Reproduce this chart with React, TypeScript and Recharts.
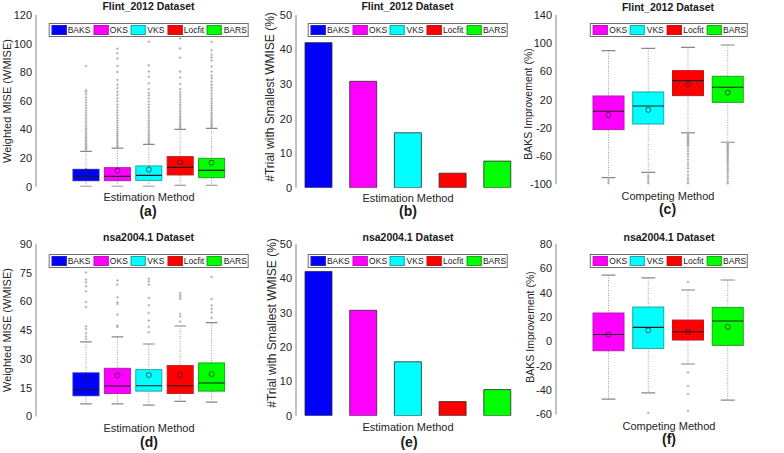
import React from 'react';
import { ComposedChart, BarChart, Bar, XAxis, YAxis, Cell, Legend } from 'recharts';

const FONT = '"Liberation Sans", Arial, Helvetica, sans-serif';
const AXIS = '#858585';
const TEXT = '#262626';

// ---------- categories ----------
const estimationMethods = ['BAKS', 'OKS', 'VKS', 'Locfit', 'BARS'];
const competingMethods = ['OKS', 'VKS', 'Locfit', 'BARS'];

// ---------- (a) Flint_2012 WMISE box plots ----------
const flintWmiseLow = [0.3, 0.3, 0.3, 1.0, 1.0];
const flintWmiseQ1 = [4.2, 4.2, 4.4, 8.2, 6.3];
const flintWmiseMedian = [7.2, 7.2, 7.9, 13.5, 11.4];
const flintWmiseQ3 = [12.1, 13.3, 14.5, 21.0, 19.8];
const flintWmiseHigh = [24.7, 27.0, 29.6, 40.1, 40.8];
const flintWmiseMean = [10.7, 11.2, 11.9, 17.0, 16.8];
const flintWmiseOutliers = [
  [25.6, 26.4, 27.3, 28.1, 29.2, 30.0, 31.1, 32.3, 33.2, 34.4, 35.5, 36.8, 38.0, 39.4, 40.7, 42.1, 43.6, 45.0, 46.6, 48.1, 49.9, 51.6, 53.2, 55.0, 56.9, 58.7, 60.6, 62.4, 64.5, 66.2, 67.4, 84.3],
  [27.9, 28.8, 29.9, 31.0, 32.1, 33.3, 34.6, 35.8, 37.1, 38.5, 40.0, 41.4, 43.0, 44.6, 46.3, 48.0, 49.8, 51.7, 53.5, 55.6, 57.5, 59.7, 61.8, 64.1, 66.3, 68.9, 71.2, 74.6, 80.2, 84.4, 89.6, 93.3, 96.5],
  [30.4, 31.3, 32.4, 33.5, 34.7, 35.9, 37.2, 38.6, 40.0, 41.5, 43.1, 44.6, 46.3, 48.0, 49.7, 51.5, 53.3, 55.3, 57.4, 59.4, 61.6, 63.8, 65.5, 68.2, 72.3, 76.8, 80.5, 84.9, 101.3],
  [40.8, 41.7, 42.6, 43.6, 44.7, 45.9, 47.1, 48.4, 49.7, 51.1, 52.6, 54.1, 55.7, 57.3, 59.0, 60.8, 62.6, 64.3, 66.1, 68.3, 71.8, 76.2, 80.4, 90.1, 96.7, 103.6],
  [41.5, 42.4, 43.4, 44.4, 45.5, 46.7, 47.9, 49.2, 50.5, 51.9, 53.4, 54.9, 56.5, 58.1, 59.8, 61.6, 63.4, 65.3, 67.2, 69.2, 71.3, 73.5, 75.8, 77.6, 80.4, 84.1, 88.2, 90.3, 92.2, 95.4, 101.2, 106.3],
];

// ---------- (b) Flint_2012 % trials with smallest WMISE ----------
const flintBestPct = [42.0, 30.8, 15.9, 4.2, 7.7];

// ---------- (c) Flint_2012 BAKS improvement ----------
const flintImpLow = [-90.6, -83.0, -27.2, -40.4];
const flintImpQ1 = [-22.5, -14.5, 25.7, 16.2];
const flintImpMedian = [3.5, 11.0, 47.0, 37.5];
const flintImpQ3 = [25.2, 30.9, 61.1, 53.1];
const flintImpHigh = [89.4, 92.8, 94.2, 97.5];
const flintImpMean = [-1.7, 5.4, 41.3, 30.0];
const flintImpOutliers = [
  [-93.8, -97.0, -99.4],
  [-86.8, -89.2, -92.0, -95.1, -98.0, -99.8],
  [-28.9, -30.4, -31.8, -33.3, -34.9, -36.4, -38.0, -39.7, -41.3, -43.0, -44.8, -46.6, -50.1, -53.7, -57.4, -60.8, -65.2, -70.0, -73.6, -77.3, -82.1, -86.8, -90.4, -93.8, -97.5, -99.6],
  [-41.8, -43.3, -44.9, -46.4, -48.0, -49.7, -51.3, -53.0, -54.8, -56.5, -58.3, -60.2, -62.1, -64.0, -66.1, -68.2, -70.4, -72.7, -75.1, -77.6, -80.2, -82.9, -85.8, -88.9, -92.2, -95.6, -98.7, -99.9],
];

// ---------- (d) nsa2004.1 WMISE box plots ----------
const nsaWmiseLow = [6.5, 6.5, 5.9, 7.8, 7.5];
const nsaWmiseQ1 = [10.8, 12.0, 13.2, 12.0, 13.2];
const nsaWmiseMedian = [13.9, 15.9, 16.0, 16.0, 17.4];
const nsaWmiseQ3 = [22.7, 25.1, 24.4, 26.5, 27.9];
const nsaWmiseHigh = [38.9, 41.5, 37.8, 47.2, 48.9];
const nsaWmiseMean = [20.0, 21.4, 21.6, 21.6, 22.1];
const nsaWmiseOutliers = [
  [40.4, 41.8, 43.5, 45.6, 47.0, 57.1, 59.7, 65.3, 67.9, 70.0, 71.4, 75.2],
  [46.7, 47.4, 53.1, 58.7, 59.5, 62.1, 68.8, 71.0],
  [43.9, 46.7, 50.1, 54.0, 58.0, 61.8, 68.8, 70.5, 71.9],
  [49.5, 52.2, 53.5, 61.3, 62.3, 63.2, 64.4],
  [51.4, 54.3, 56.1, 58.0, 61.3, 72.8],
];

// ---------- (e) nsa2004.1 % trials with smallest WMISE ----------
const nsaBestPct = [42.0, 30.7, 15.7, 4.1, 7.6];

// ---------- (f) nsa2004.1 BAKS improvement ----------
const nsaImpLow = [-47.4, -42.4, -18.6, -48.2];
const nsaImpQ1 = [-7.7, -5.8, 1.1, -3.3];
const nsaImpMedian = [5.7, 11.5, 7.9, 16.7];
const nsaImpQ3 = [23.3, 28.2, 17.5, 27.9];
const nsaImpHigh = [54.5, 52.1, 42.2, 50.4];
const nsaImpMean = [5.5, 9.0, 7.9, 12.0];
const nsaImpOutliers = [[], [-58.7], [48.8, -25.5, -36.7, -43.3, -57.2], []];

// ---------- axis ticks ----------
const wmiseFlintTicks = [0, 20, 40, 60, 80, 100, 120];
const pctTicks = [0, 10, 20, 30, 40, 50];
const impFlintTicks = [-100, -60, -20, 20, 60, 100, 140];
const wmiseNsaTicks = [0, 15, 30, 45, 60, 75, 90];
const impNsaTicks = [-60, -40, -20, 0, 20, 40, 60, 80];

// ---------- styles ----------
const FILLS: Record<string, string> = { BAKS: '#0000ff', OKS: '#ff00ff', VKS: '#00ffff', Locfit: '#ff0000', BARS: '#00ff00' };
const EDGES: Record<string, string> = { BAKS: '#2020c0', OKS: '#b818b8', VKS: '#18a8a8', Locfit: '#c01818', BARS: '#18a818' };

function boxRows(methods: string[], low: number[], q1: number[], med: number[], q3: number[], high: number[], mean: number[], outl: number[][]) {
  return methods.map((m, i) => ({ method: m, low: low[i], q1: q1[i], median: med[i], q3: q3[i], high: high[i], mean: mean[i], outliers: outl[i] }));
}
function barRows(methods: string[], vals: number[]) {
  return methods.map((m, i) => ({ method: m, pct: vals[i] }));
}

const BoxShape = (props: any) => {
  const { x, y, width, height, payload } = props;
  if (!payload || !height) return null;
  const d = payload;
  const ppu = height / (d.q3 - d.q1);
  const py = (v: number) => y + (d.q3 - v) * ppu;
  const cx = x + width / 2;
  const cap = width * 0.45;
  return (
    <g>
      <line x1={cx} x2={cx} y1={py(d.high)} y2={y} stroke="#9a9a9a" strokeWidth={1} strokeDasharray="1 1.5" />
      <line x1={cx} x2={cx} y1={y + height} y2={py(d.low)} stroke="#9a9a9a" strokeWidth={1} strokeDasharray="1 1.5" />
      <line x1={cx - cap / 2} x2={cx + cap / 2} y1={py(d.high)} y2={py(d.high)} stroke="#888" strokeWidth={1.2} />
      <line x1={cx - cap / 2} x2={cx + cap / 2} y1={py(d.low)} y2={py(d.low)} stroke="#888" strokeWidth={1.2} />
      {d.outliers.map((v: number, k: number) => {
        const oy = py(v);
        return <path key={k} d={`M${cx - 1.3},${oy}h2.6M${cx},${oy - 1.3}v2.6`} stroke="#a2a2a2" strokeWidth={0.8} fill="none" />;
      })}
      <rect x={x} y={y} width={width} height={height} fill={FILLS[d.method]} stroke={EDGES[d.method]} strokeWidth={1} />
      <line x1={x} x2={x + width} y1={py(d.median)} y2={py(d.median)} stroke="#1a1a1a" strokeWidth={1.1} />
      <circle cx={cx} cy={py(d.mean)} r={2.5} fill="none" stroke="#222" strokeOpacity={0.7} strokeWidth={1} />
    </g>
  );
};

const LegendBox = ({ names }: { names: string[] }) => (
  <div style={{ display: 'inline-flex', alignItems: 'center', border: '1px solid #6e6e6e', background: '#fff', padding: '1px 1px 1px 2px', fontFamily: FONT, fontSize: 8.5, color: '#1a1a1a', lineHeight: '10px', whiteSpace: 'nowrap' }}>
    {names.map((n, i) => (
      <div key={n} style={{ display: 'flex', alignItems: 'center', marginLeft: i ? 3 : 0 }}>
        <span style={{ display: 'inline-block', width: 15, height: 10, background: FILLS[n], border: `1px solid ${EDGES[n]}`, boxSizing: 'border-box', marginRight: 1.5 }} />
        <span>{n}</span>
      </div>
    ))}
  </div>
);

type Plot = { left: number; right: number; top: number; bottom: number };
const YW = 36;
const MB = 10;

function commonAxes(domain: number[], ticks: number[], padding: any) {
  const tickStyle = { fill: TEXT, fontSize: 11, fontFamily: FONT };
  return [
    <XAxis key="xb" dataKey="method" type="category" padding={padding} tick={false} tickLine={false} axisLine={{ stroke: AXIS }} height={0} />,
    <XAxis key="xt" xAxisId="top" dataKey="method" type="category" orientation="top" mirror tick={false} tickLine={false} axisLine={{ stroke: AXIS }} height={0} />,
    <YAxis key="yl" type="number" domain={domain} ticks={ticks} interval={0} allowDataOverflow width={YW} tickLine={false} tickSize={0} tickMargin={4} axisLine={{ stroke: AXIS }} tick={tickStyle} />,
    <YAxis key="ylt" yAxisId="lt" type="number" domain={domain} ticks={ticks} interval={0} mirror width={0} tick={false} tickSize={3} axisLine={false} tickLine={{ stroke: AXIS }} />,
    <YAxis key="yr" yAxisId="r" orientation="right" type="number" domain={domain} ticks={ticks} interval={0} mirror width={0} tick={false} tickSize={3} axisLine={{ stroke: AXIS }} tickLine={{ stroke: AXIS }} />,
  ];
}

const BoxPanel = ({ plot, rows, domain, ticks, padding, barSize, names, legendTop }: any) => {
  const W = plot.right - plot.left + YW + 4;
  const H = plot.bottom - plot.top + 15 + MB;
  return (
    <div style={{ position: 'absolute', left: plot.left - YW, top: plot.top - 15 }}>
      <ComposedChart width={W} height={H} data={rows} margin={{ top: 15, right: 4, bottom: MB, left: 0 }}>
        {commonAxes(domain, ticks, padding)}
        <Legend layout="horizontal" verticalAlign="middle" align="center" content={() => <LegendBox names={names} />}
          wrapperStyle={{ top: 15 + legendTop, left: YW + (plot.right - plot.left) / 2, transform: 'translateX(-50%)', width: 'auto' }} />
        <Bar dataKey={(d: any) => [d.q1, d.q3]} barSize={barSize} shape={BoxShape} isAnimationActive={false} />
      </ComposedChart>
    </div>
  );
};

const BarPanel = ({ plot, rows, domain, ticks, names, legendTop }: any) => {
  const W = plot.right - plot.left + YW + 4;
  const H = plot.bottom - plot.top + 15 + MB;
  return (
    <div style={{ position: 'absolute', left: plot.left - YW, top: plot.top - 15 }}>
      <BarChart width={W} height={H} data={rows} margin={{ top: 15, right: 4, bottom: MB, left: 0 }}>
        {commonAxes(domain, ticks, { left: 0, right: 0 })}
        <Legend layout="horizontal" verticalAlign="middle" align="center" content={() => <LegendBox names={names} />}
          wrapperStyle={{ top: 15 + legendTop, left: YW + (plot.right - plot.left) / 2, transform: 'translateX(-50%)', width: 'auto' }} />
        <Bar dataKey="pct" barSize={27} isAnimationActive={false} stroke="#2a2a2a" strokeWidth={0.8}>
          {rows.map((r: any) => <Cell key={r.method} fill={FILLS[r.method]} />)}
        </Bar>
      </BarChart>
    </div>
  );
};

const plotA: Plot = { left: 36, right: 261, top: 15, bottom: 186.7 };
const plotB: Plot = { left: 296, right: 519.5, top: 15, bottom: 187.7 };
const plotC: Plot = { left: 556, right: 782, top: 15, bottom: 184.3 };
const plotD: Plot = { left: 36, right: 261, top: 244.3, bottom: 416.7 };
const plotE: Plot = { left: 296, right: 519.5, top: 244.3, bottom: 416 };
const plotF: Plot = { left: 556, right: 782, top: 244.3, bottom: 414.7 };

const titles = [
  { x: 148.5, y: 10.2, t: 'Flint_2012 Dataset' },
  { x: 407.5, y: 10.2, t: 'Flint_2012 Dataset' },
  { x: 668, y: 10.5, t: 'Flint_2012 Dataset' },
  { x: 148.5, y: 240.7, t: 'nsa2004.1 Dataset' },
  { x: 408, y: 240.7, t: 'nsa2004.1 Dataset' },
  { x: 669, y: 240.7, t: 'nsa2004.1 Dataset' },
];
const xLabels = [
  { x: 149, y: 201.2, t: 'Estimation Method' },
  { x: 408, y: 202, t: 'Estimation Method' },
  { x: 668, y: 199.8, t: 'Competing Method' },
  { x: 149, y: 431.5, t: 'Estimation Method' },
  { x: 408, y: 431, t: 'Estimation Method' },
  { x: 669, y: 429.8, t: 'Competing Method' },
];
const panelLetters = [
  { x: 148, y: 215.5, t: '(a)' },
  { x: 408, y: 215.5, t: '(b)' },
  { x: 667.5, y: 214, t: '(c)' },
  { x: 149, y: 447, t: '(d)' },
  { x: 409, y: 447, t: '(e)' },
  { x: 669, y: 444, t: '(f)' },
];
const yLabels = [
  { x: 10.5, cy: 101, s: 11, t: 'Weighted MISE (WMISE)' },
  { x: 274, cy: 97, s: 12, t: '#Trial with Smallest WMISE (%)' },
  { x: 531.5, cy: 104, s: 10.5, t: 'BAKS Improvement (%)' },
  { x: 10.5, cy: 330, s: 11, t: 'Weighted MISE (WMISE)' },
  { x: 275.5, cy: 323, s: 12, t: '#Trial with Smallest WMISE (%)' },
  { x: 534, cy: 327, s: 10.5, t: 'BAKS Improvement (%)' },
];

export default function App() {
  const rowsA = boxRows(estimationMethods, flintWmiseLow, flintWmiseQ1, flintWmiseMedian, flintWmiseQ3, flintWmiseHigh, flintWmiseMean, flintWmiseOutliers);
  const rowsC = boxRows(competingMethods, flintImpLow, flintImpQ1, flintImpMedian, flintImpQ3, flintImpHigh, flintImpMean, flintImpOutliers);
  const rowsD = boxRows(estimationMethods, nsaWmiseLow, nsaWmiseQ1, nsaWmiseMedian, nsaWmiseQ3, nsaWmiseHigh, nsaWmiseMean, nsaWmiseOutliers);
  const rowsF = boxRows(competingMethods, nsaImpLow, nsaImpQ1, nsaImpMedian, nsaImpQ3, nsaImpHigh, nsaImpMean, nsaImpOutliers);
  const rowsB = barRows(estimationMethods, flintBestPct);
  const rowsE = barRows(estimationMethods, nsaBestPct);

  return (
    <div style={{ position: 'fixed', left: 0, top: 0, width: 784, height: 453, background: '#fff', overflow: 'hidden' }}>
      <BoxPanel plot={plotA} rows={rowsA} domain={[0, 120]} ticks={wmiseFlintTicks} padding={{ left: 34, right: 34 }} barSize={26} names={estimationMethods} legendTop={5.7} />
      <BarPanel plot={plotB} rows={rowsB} domain={[0, 50]} ticks={pctTicks} names={estimationMethods} legendTop={5.7} />
      <BoxPanel plot={plotC} rows={rowsC} domain={[-100, 140]} ticks={impFlintTicks} padding={{ left: 33, right: 34 }} barSize={31} names={competingMethods} legendTop={5.7} />
      <BoxPanel plot={plotD} rows={rowsD} domain={[0, 90]} ticks={wmiseNsaTicks} padding={{ left: 34, right: 34 }} barSize={26} names={estimationMethods} legendTop={7.4} />
      <BarPanel plot={plotE} rows={rowsE} domain={[0, 50]} ticks={pctTicks} names={estimationMethods} legendTop={7.4} />
      <BoxPanel plot={plotF} rows={rowsF} domain={[-60, 80]} ticks={impNsaTicks} padding={{ left: 33, right: 34 }} barSize={31} names={competingMethods} legendTop={7.4} />
      <svg width={784} height={453} style={{ position: 'absolute', left: 0, top: 0, pointerEvents: 'none' }} fontFamily={FONT}>
        {titles.map((d, i) => (
          <text key={'t' + i} x={d.x} y={d.y} textAnchor="middle" fontSize={10.5} fontWeight="bold" fill="#1a1a1a">{d.t}</text>
        ))}
        {xLabels.map((d, i) => (
          <text key={'x' + i} x={d.x} y={d.y} textAnchor="middle" fontSize={11} fill={TEXT}>{d.t}</text>
        ))}
        {panelLetters.map((d, i) => (
          <text key={'p' + i} x={d.x} y={d.y} textAnchor="middle" fontSize={14} fontWeight="bold" fill="#1a1a1a">{d.t}</text>
        ))}
        {yLabels.map((d, i) => (
          <text key={'y' + i} transform={`translate(${d.x},${d.cy}) rotate(-90)`} textAnchor="middle" fontSize={d.s} fill={TEXT}>{d.t}</text>
        ))}
      </svg>
    </div>
  );
}
